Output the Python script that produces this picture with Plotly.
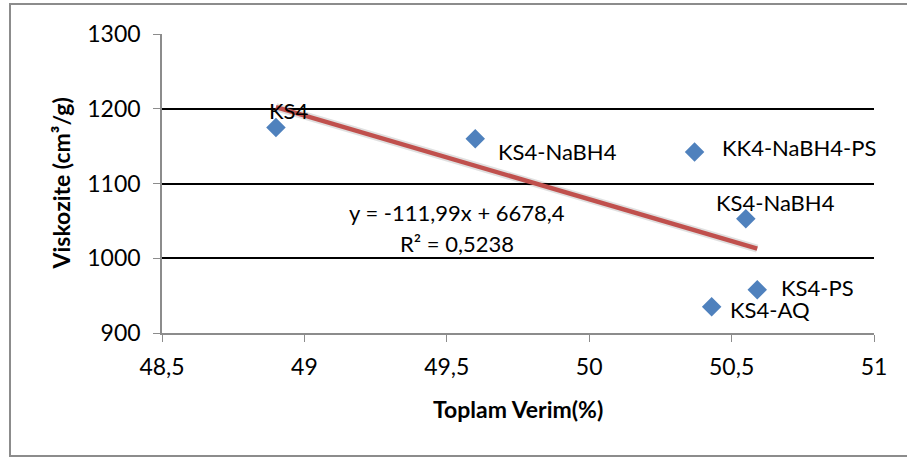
import plotly.graph_objects as go

# ---- data ----
labels = ["KS4", "KS4-NaBH4", "KK4-NaBH4-PS", "KS4-NaBH4", "KS4-PS", "KS4-AQ"]
verim = [48.90, 49.60, 50.37, 50.55, 50.59, 50.43]
viskozite = [1175, 1160, 1142, 1053, 958, 935]
trend_slope = -111.99
trend_intercept = 6678.4
eq_text = "y = -111,99x + 6678,4"
r2_text = "R² = 0,5238"
x_ticks = [48.5, 49, 49.5, 50, 50.5, 51]
x_tick_text = ["48,5", "49", "49,5", "50", "50,5", "51"]
y_ticks = [900, 1000, 1100, 1200, 1300]

# label placement (style)
lab_anchor = ["center", "left", "left", "center", "left", "left"]
lab_dx = [13, 22, 26, 30, 23, 17]
lab_dy = [17, -13, 5, 16, 2, -3]

FONT = "Lato, 'Open Sans', sans-serif"
W, H = 907, 459
L, R, T, B = 162, 33, 34, 126
pw, ph = W - L - R, H - T - B
LAB_SIZE = 22
TICK_SIZE = 23
TITLE_SIZE = 23

fig = go.Figure()

tx = [min(verim), max(verim)]
ty = [trend_slope * v + trend_intercept for v in tx]
fig.add_trace(go.Scatter(x=tx, y=ty, mode="lines",
                         line=dict(color="rgba(0,0,0,0.12)", width=8),
                         hoverinfo="skip", showlegend=False))
fig.add_trace(go.Scatter(x=tx, y=ty, mode="lines",
                         line=dict(color="#C0504D", width=4.5),
                         showlegend=False))
fig.add_trace(go.Scatter(x=verim, y=viskozite, mode="markers",
                         marker=dict(symbol="diamond", size=15, color="#4F81BD",
                                     line=dict(width=0)),
                         showlegend=False))

for lab, xv, yv, an, dx, dy in zip(labels, verim, viskozite, lab_anchor, lab_dx, lab_dy):
    fig.add_annotation(x=xv, y=yv, text=lab, showarrow=False, xanchor=an,
                       yanchor="middle", xshift=dx, yshift=dy, borderpad=0,
                       font=dict(family=FONT, size=LAB_SIZE, color="#000"))

fig.add_annotation(xref="paper", yref="paper", x=(457 - L) / pw, y=(H - B - 212) / ph,
                   text=eq_text, showarrow=False, xanchor="center", yanchor="middle",
                   font=dict(family=FONT, size=LAB_SIZE, color="#000"))
fig.add_annotation(xref="paper", yref="paper", x=(457 - L) / pw, y=(H - B - 243) / ph,
                   text=r2_text, showarrow=False, xanchor="center", yanchor="middle",
                   font=dict(family=FONT, size=LAB_SIZE, color="#000"))

# axis titles
fig.add_annotation(xref="paper", yref="paper", x=(518 - L) / pw, y=(H - B - 409) / ph,
                   text="<b>Toplam Verim(%)</b>", showarrow=False, xanchor="center",
                   yanchor="middle", font=dict(family=FONT, size=TITLE_SIZE, color="#000"))
fig.add_annotation(xref="paper", yref="paper", x=(60 - L) / pw, y=0.5,
                   text="<b>Viskozite (cm³/g)</b>", showarrow=False, textangle=-90,
                   xanchor="center", yanchor="middle",
                   font=dict(family=FONT, size=TITLE_SIZE, color="#000"))

# outer border
fig.add_shape(type="rect", xref="paper", yref="paper",
              x0=(10 - L) / pw, x1=(W + 20 - L) / pw,
              y0=(H - B - 456) / ph, y1=(H - B - 4) / ph,
              line=dict(color="#8C8C8C", width=2), fillcolor="rgba(0,0,0,0)", layer="below")

fig.update_layout(
    width=W, height=H,
    margin=dict(l=L, r=R, t=T, b=B),
    paper_bgcolor="white", plot_bgcolor="white",
    separators=",.",
    font=dict(family=FONT, size=TICK_SIZE, color="#000"),
    xaxis=dict(range=[48.5, 51], tickvals=x_ticks, ticktext=x_tick_text,
               showgrid=False, zeroline=False, showline=True, linecolor="#8C8C8C",
               linewidth=1.5, ticks="outside", ticklen=7, tickcolor="#8C8C8C",
               tickfont=dict(family=FONT, size=TICK_SIZE, color="#000"), ticklabelstandoff=6),
    yaxis=dict(range=[900, 1300], tickvals=y_ticks, showgrid=True, gridcolor="#000",
               gridwidth=1.5, zeroline=False, showline=True, linecolor="#8C8C8C",
               linewidth=1.5, ticks="outside", ticklen=7, tickcolor="#8C8C8C",
               tickfont=dict(family=FONT, size=TICK_SIZE, color="#000"), ticklabelstandoff=8),
)

fig.write_html("out.html")
